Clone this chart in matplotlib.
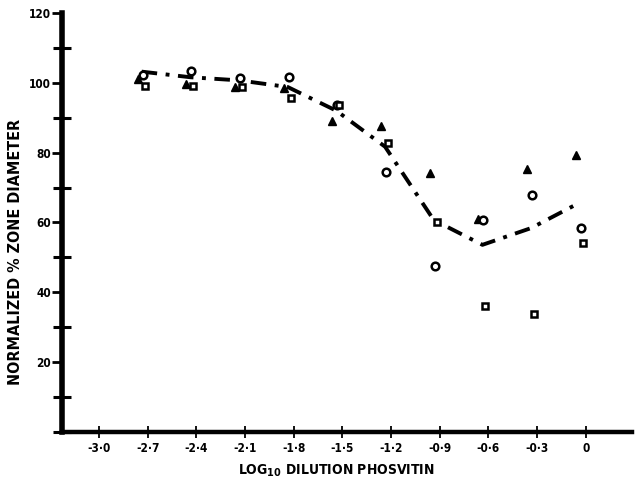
import matplotlib
matplotlib.use("Agg")
import matplotlib.pyplot as plt
import matplotlib.transforms as mtransforms
from matplotlib.ticker import MultipleLocator

# log10 dilution of phosvitin
dilucao = [-2.7, -2.4, -2.1, -1.8, -1.5, -1.2, -0.9, -0.6, -0.3, 0.0]

# normalized % zone diameter, one list per organism
triangulos = [101.1, 99.6, 98.7, 98.5, 89.0, 87.7, 74.3, 60.9, 75.4, 79.3]
circulos = [102.3, 103.5, 101.5, 101.8, 93.7, 74.4, 47.4, 60.6, 68.0, 58.4]
quadrados = [99.0, 99.1, 98.7, 95.6, 93.7, 82.7, 60.0, 36.0, 33.7, 54.1]

# curva media tracada a mao
curva = [103.2, 101.6, 100.7, 98.8, 92.0, 81.7, 60.7, 53.6, 58.4, 65.7]

rotulos_x = ["-3·0", "-2·7", "-2·4", "-2·1", "-1·8", "-1·5", "-1·2", "-0·9", "-0·6", "-0·3", "0"]
ticks_x = [-3.0, -2.7, -2.4, -2.1, -1.8, -1.5, -1.2, -0.9, -0.6, -0.3, 0.0]

fonte = {"family": "DejaVu Sans", "weight": "bold", "stretch": "condensed"}

fig = plt.figure(figsize=(6.37, 4.92), dpi=100)
ax = fig.add_axes([0.0973, 0.122, 0.8947, 0.8516])

def desloca(px):
    return ax.transData + mtransforms.ScaledTranslation(px / 100, 0, fig.dpi_scale_trans)

ax.plot(dilucao, curva, color="black", lw=2.8, linestyle=(0, (4, 2.2, 1, 2.2)),
        transform=desloca(-6), zorder=2)
ax.plot(dilucao, triangulos, "^", color="black", ms=5.5, transform=desloca(-10), zorder=3)
ax.plot(dilucao, circulos, "o", mfc="white", mec="black", mew=1.8, ms=5.5,
        transform=desloca(-5), zorder=4)
ax.plot(dilucao, quadrados, "s", mfc="white", mec="black", mew=1.8, ms=4.5,
        transform=desloca(-3), zorder=4)

ax.set_xlim(-3.228, 0.284)
ax.set_ylim(0, 120)

for lado in ["top", "right"]:
    ax.spines[lado].set_visible(False)
ax.spines["left"].set_linewidth(4)
ax.spines["bottom"].set_linewidth(3.2)

ax.set_xticks(ticks_x)
ax.set_xticklabels(rotulos_x, fontdict=fonte, fontsize=8.5)
ax.tick_params(axis="x", direction="inout", length=9, width=1.3, pad=3)

ax.yaxis.set_major_locator(MultipleLocator(20))
ax.yaxis.set_minor_locator(MultipleLocator(10))
ax.set_yticks([20, 40, 60, 80, 100, 120])
ax.set_yticklabels(["20", "40", "60", "80", "100", "120"], fontdict=fonte, fontsize=8.5)
ax.tick_params(axis="y", which="major", direction="out", length=7, width=2, pad=1)
ax.tick_params(axis="y", which="minor", direction="inout", length=13, width=2.2)

ax.set_ylabel("NORMALIZED % ZONE DIAMETER", fontdict=fonte, fontsize=11.5)
ax.yaxis.set_label_coords(-0.068, 0.43)
ax.set_xlabel("LOG$_{\\mathbf{10}}$ DILUTION PHOSVITIN", fontdict=fonte, fontsize=10)
ax.xaxis.set_label_coords(0.482, -0.074)

fig.savefig("out.png", dpi=100)
